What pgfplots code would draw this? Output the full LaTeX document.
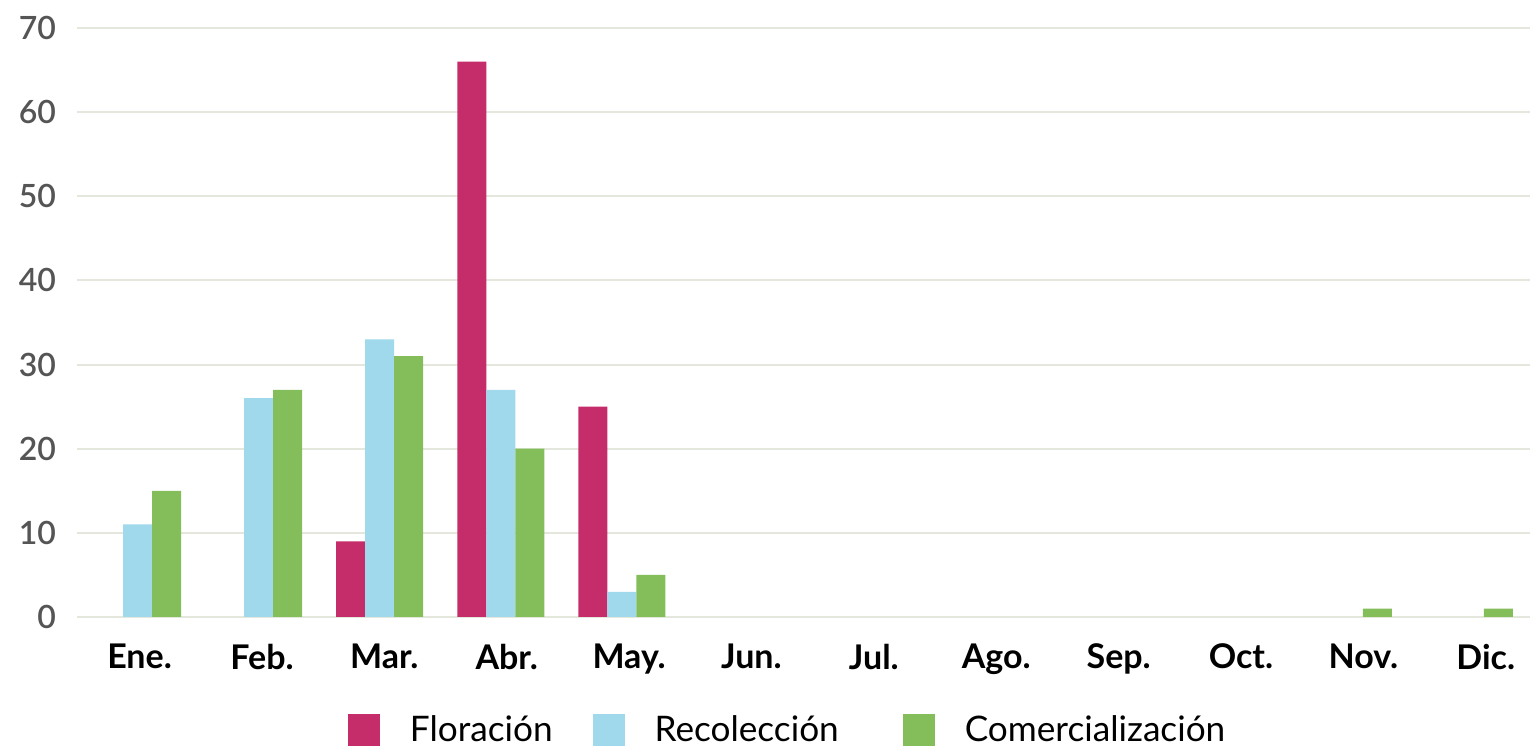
\documentclass[border=0pt]{standalone}
\usepackage{pgfplots}
\pgfplotsset{compat=1.18}
\usepackage{fontspec}
\setmainfont{Lato}
\IfFontExistsTF{Lato Semibold}{\newfontfamily\ytickfont{Lato Semibold}}{\newfontfamily\ytickfont{Lato}}
\definecolor{cflor}{RGB}{196,44,106}
\definecolor{crec}{RGB}{160,216,236}
\definecolor{ccom}{RGB}{132,190,90}
\definecolor{cgrid}{RGB}{228,231,220}
\definecolor{ctick}{RGB}{85,85,85}
\begin{document}
\begin{tikzpicture}
\useasboundingbox (-38.5pt,-65.5pt) rectangle (729pt,308.5pt);
\begin{axis}[
  at={(0pt,0pt)}, anchor=south west,
  scale only axis,
  width=726.5pt, height=294.5pt,
  ybar=0pt, bar width=14.5pt,
  xmin=-0.5, xmax=11.5,
  ymin=0, ymax=70,
  xtick={0.017,1.028,2.038,3.049,4.060,5.070,6.081,7.092,8.103,9.113,10.124,11.135},
  xticklabels={Ene.,Feb.,Mar.,Abr.,May.,Jun.,Jul.,Ago.,Sep.,Oct.,Nov.,Dic.},
  ytick={0,10,...,70},
  /pgf/number format/assume math mode=true,
  axis line style={draw=none},
  major tick length=0pt,
  ymajorgrids, grid style={cgrid, line width=1pt},
  xticklabel style={font=\fontsize{17pt}{19pt}\selectfont\bfseries, text=black, yshift=-10pt},
  yticklabel style={font=\fontsize{16pt}{18pt}\ytickfont, text=ctick, xshift=-7pt},
  legend style={at={(axis description cs:0.182,-0.192)}, anchor=west, draw=none,
    legend columns=3, font=\fontsize{17.6pt}{19pt}\selectfont,
    /tikz/every even column/.append style={column sep=0pt}},
  legend image code/.code={\fill[#1] (0pt,-8pt) rectangle (16pt,8pt);},
  legend cell align=left,
]
\addplot[fill=cflor, draw=none] coordinates {(2,9) (3,66) (4,25)};
\addplot[fill=crec, draw=none] coordinates {(0,11) (1,26) (2,33) (3,27) (4,3)};
\addplot[fill=ccom, draw=none] coordinates {(0,15) (1,27) (2,31) (3,20) (4,5) (10,1) (11,1)};
\legend{\hspace*{13pt}Floración\hspace*{18pt},\hspace*{13pt}Recolección\hspace*{30pt},\hspace*{13pt}Comercialización}
\end{axis}
\end{tikzpicture}
\end{document}
